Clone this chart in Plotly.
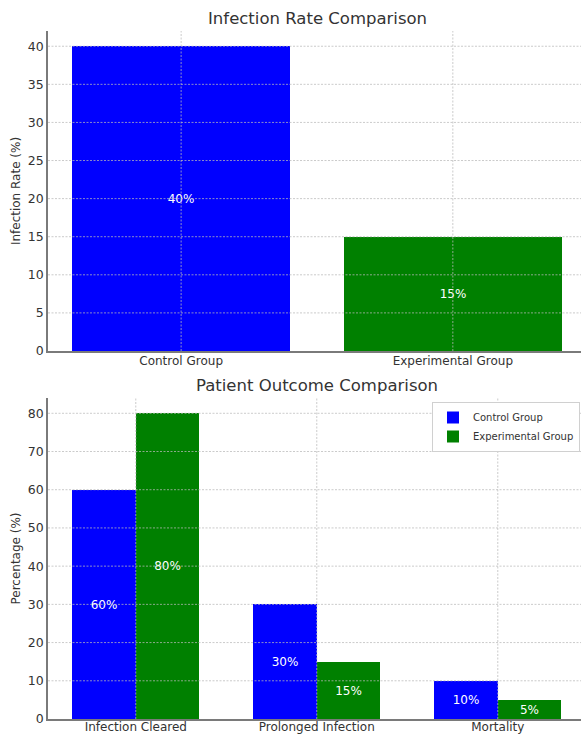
import plotly.graph_objects as go

# Infection rate by group
groups = ["Control Group", "Experimental Group"]
infection_rate = [40, 15]

# Patient outcomes by category
outcomes = ["Infection Cleared", "Prolonged Infection", "Mortality"]
control_outcome = [60, 30, 10]
experimental_outcome = [80, 15, 5]

top_yticks = [0, 5, 10, 15, 20, 25, 30, 35, 40]
bottom_yticks = [0, 10, 20, 30, 40, 50, 60, 70, 80]

BLUE = "#0000ff"
GREEN = "#008000"
TXT = "#333333"
FONT = "DejaVu Sans"
GRID = "rgba(185,185,185,0.75)"
SPINE = "#7a7a7a"

W, H = 581, 734
ML, MR, MT, MB = 48, 0, 31, 15

fig = go.Figure()

# top panel: single bar per group
fig.add_trace(go.Bar(
    x=[0, 1], y=infection_rate, width=0.8,
    marker=dict(color=[BLUE, GREEN], line=dict(width=0)),
    text=[f"{v}%" for v in infection_rate],
    textposition="inside", insidetextanchor="middle", constraintext="none",
    textfont=dict(color="white", size=12, family=FONT),
    showlegend=False, hoverinfo="skip", xaxis="x", yaxis="y",
))

# bottom panel: grouped bars
off = 0.35 / 2
fig.add_trace(go.Bar(
    x=[i - off for i in range(len(outcomes))], y=control_outcome, width=0.35,
    marker=dict(color=BLUE, line=dict(width=0)), name="Control Group",
    text=[f"{v}%" for v in control_outcome],
    textposition="inside", insidetextanchor="middle", constraintext="none",
    textfont=dict(color="white", size=12, family=FONT),
    hoverinfo="skip", xaxis="x2", yaxis="y2",
))
fig.add_trace(go.Bar(
    x=[i + off for i in range(len(outcomes))], y=experimental_outcome, width=0.35,
    marker=dict(color=GREEN, line=dict(width=0)), name="Experimental Group",
    text=[f"{v}%" for v in experimental_outcome],
    textposition="inside", insidetextanchor="middle", constraintext="none",
    textfont=dict(color="white", size=12, family=FONT),
    hoverinfo="skip", xaxis="x2", yaxis="y2",
))

plot_h = H - MT - MB
top_dom = [1 - (351 - MT) / plot_h, 1.0]
bot_dom = [0.0, (H - MB - 398) / plot_h]
px_w = W - ML - MR

axis_common = dict(
    showgrid=False, zeroline=False, showline=True, linecolor=SPINE, linewidth=1.5,
    ticks="", tickfont=dict(size=12.5, color=TXT, family=FONT), layer="above traces",
)
xaxis_common = dict(axis_common, tickfont=dict(size=12, color=TXT, family=FONT))

fig.update_layout(
    width=W, height=H,
    margin=dict(l=ML, r=MR, t=MT, b=MB, autoexpand=False),
    paper_bgcolor="white", plot_bgcolor="white",
    font=dict(family=FONT, color=TXT),
    bargap=0,
    xaxis=dict(xaxis_common, domain=[0, 1], anchor="y", ticklabelstandoff=-2,
               range=[-0.49, -0.49 + px_w / 271.7],
               tickmode="array", tickvals=[0, 1], ticktext=groups),
    yaxis=dict(axis_common, domain=top_dom, anchor="x", range=[0, 42],
               tickmode="array", tickvals=top_yticks,
               title=dict(text="Infection Rate (%)", font=dict(size=12, color=TXT), standoff=5)),
    xaxis2=dict(xaxis_common, domain=[0, 1], anchor="y2", ticklabelstandoff=-4,
                range=[-0.485, -0.485 + px_w / 181.0],
                tickmode="array", tickvals=list(range(len(outcomes))), ticktext=outcomes),
    yaxis2=dict(axis_common, domain=bot_dom, anchor="x2", range=[0, 84],
                tickmode="array", tickvals=bottom_yticks,
                title=dict(text="Percentage (%)", font=dict(size=12, color=TXT), standoff=5)),
    legend=dict(
        x=(580 - ML) / px_w, xanchor="right",
        y=(H - MB - 402) / plot_h, yanchor="top",
        bgcolor="white", bordercolor="#d0d0d0", borderwidth=1,
        font=dict(size=10, color=TXT, family=FONT),
        tracegroupgap=0, itemwidth=30,
    ),
    annotations=[
        dict(text="Infection Rate Comparison", x=(317 - ML) / px_w, y=18, xref="paper",
             yref="paper", showarrow=False, font=dict(size=16.5, color=TXT, family=FONT)),
        dict(text="Patient Outcome Comparison", x=(317 - ML) / px_w, y=385, xref="paper",
             yref="paper", showarrow=False, font=dict(size=16.5, color=TXT, family=FONT)),
    ],
)

# convert title pixel rows to paper coords
for ann in fig.layout.annotations:
    ann.y = (H - MB - ann.y) / plot_h
    ann.yanchor = "middle"

# dotted grid drawn on top of bars
grid_line = dict(color=GRID, width=1, dash="2px,1.5px")
shapes = []
for v in top_yticks[1:]:
    shapes.append(dict(type="line", xref="x domain", yref="y", x0=0, x1=1, y0=v, y1=v,
                       line=grid_line, layer="above"))
for v in [0, 1]:
    shapes.append(dict(type="line", xref="x", yref="y domain", x0=v, x1=v, y0=0, y1=1,
                       line=grid_line, layer="above"))
for v in bottom_yticks[1:]:
    shapes.append(dict(type="line", xref="x2 domain", yref="y2", x0=0, x1=1, y0=v, y1=v,
                       line=grid_line, layer="above"))
for v in range(len(outcomes)):
    shapes.append(dict(type="line", xref="x2", yref="y2 domain", x0=v, x1=v, y0=0, y1=1,
                       line=grid_line, layer="above"))
fig.update_layout(shapes=shapes)

fig.write_html("out.html")
